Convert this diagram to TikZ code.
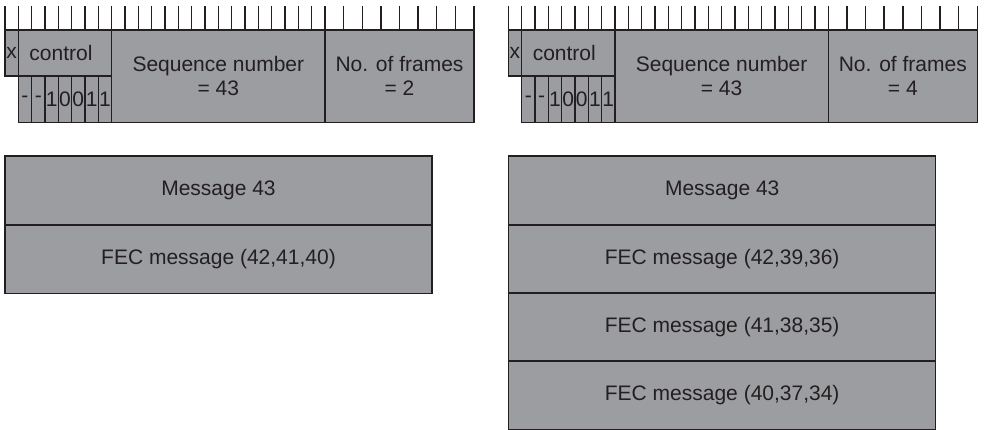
\documentclass[tikz,border=0pt]{standalone}
\usepackage{fontspec}
\setmainfont{Liberation Sans}
\definecolor{ink}{HTML}{231F20}
\definecolor{cellgray}{HTML}{9C9DA1}
\begin{document}
\begin{tikzpicture}[x=1pt,y=-1pt,
  field/.style={draw=ink, fill=cellgray, line width=1.3pt, inner sep=0pt, outer sep=0pt,
    anchor=north west, text=ink, align=center,
    font=\fontsize{21}{24.5}\selectfont},
  tick/.style={draw=ink, line width=1.4pt}]
\useasboundingbox (0,0) rectangle (984,430);

% ---- frame header: bit ruler plus fields ----
\newcommand{\hdr}[3]{%
  \begin{scope}[shift={(#1,0)}]
    \foreach \i in {0,...,24}
      \draw[tick] ({5+13.3333*\i},6.5) -- ({5+13.3333*\i},30);
    \foreach \i in {1,...,8}
      \draw[tick] ({325+18.625*\i},6.5) -- ({325+18.625*\i},30);
    \node[field, minimum width=13.33pt, minimum height=46pt] (#3x) at (5,30) {x};
    \node[field, minimum width=93.33pt, minimum height=46pt] (#3ctl) at (18.33,30)
      {\hspace*{-8pt}control};
    \foreach \b [count=\k from 0] in {-,-,1,0,0,1,1}
      \node[field, minimum width=13.33pt, minimum height=46.3pt] (#3bit\k)
        at ({18.33+13.3333*\k},76) {\b};
    \node[field, minimum width=213.33pt, minimum height=92.3pt] (#3seq) at (111.67,30)
      {Sequence number\\= 43};
    \node[field, minimum width=149pt, minimum height=92.3pt] (#3nf) at (325,30)
      {No. of frames\\= #2};
  \end{scope}}

\hdr{0}{2}{A}
\hdr{503.3}{4}{B}

% ---- message blocks, two frames ----
\node[field, minimum width=427pt, minimum height=69pt] (Amsg) at (5,156) {Message 43};
\node[field, minimum width=427pt, minimum height=68.5pt] (Afec) at (5,225)
  {FEC message (42,41,40)};

\node[field, minimum width=427pt, minimum height=69pt] (Bmsg) at (508.7,156) {Message 43};
\node[field, minimum width=427pt, minimum height=68pt] (Bfec1) at (508.7,225)
  {FEC message (42,39,36)};
\node[field, minimum width=427pt, minimum height=68pt] (Bfec2) at (508.7,293)
  {FEC message (41,38,35)};
\node[field, minimum width=427pt, minimum height=68.5pt] (Bfec3) at (508.7,361)
  {FEC message (40,37,34)};
\end{tikzpicture}
\end{document}
